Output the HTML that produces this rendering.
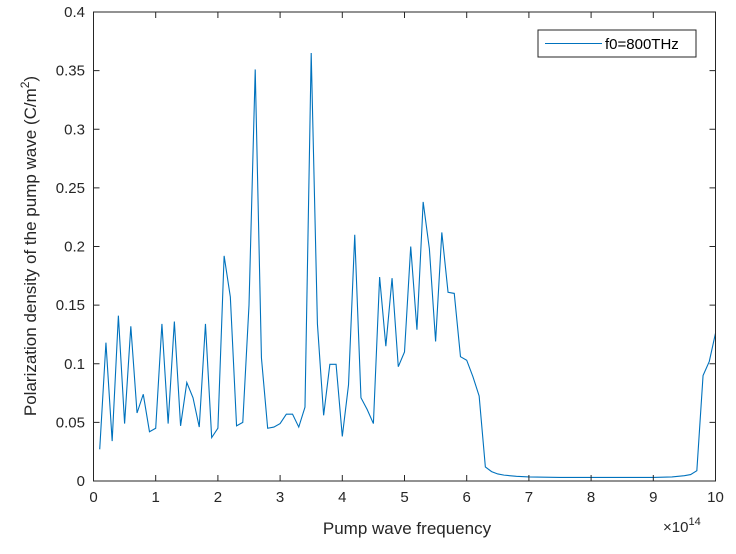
<!DOCTYPE html>
<html><head><meta charset="utf-8"><style>
html,body{margin:0;padding:0;background:#fff}
svg{display:block;font-family:"Liberation Sans",Arial,sans-serif}
</style></head><body>
<svg id="chart" width="736" height="554" viewBox="0 0 736 554">
<rect x="0" y="0" width="736" height="554" fill="#fff"/>
<g id="grid"></g>
<polyline id="series" fill="none" stroke="#0072BD" stroke-width="1.1"/>
<rect x="93.5" y="12" width="622" height="469" fill="none" stroke="#262626" stroke-width="1"/>
<g id="ticks"></g>
<text x="407" y="534" font-size="17" fill="#262626" text-anchor="middle">Pump wave frequency</text>
<text x="663" y="532" font-size="15" fill="#262626">×10<tspan dy="-7" font-size="11">14</tspan></text>
<text transform="translate(36,246) rotate(-90)" font-size="17" fill="#262626" text-anchor="middle">Polarization density of the pump wave (C/m<tspan dy="-7" font-size="12">2</tspan><tspan dy="7">)</tspan></text>
<g>
<rect x="538" y="30" width="158" height="27" fill="#fff" stroke="#262626" stroke-width="1"/>
<line x1="545" y1="43.5" x2="602" y2="43.5" stroke="#0072BD" stroke-width="1.1"/>
<text x="605" y="49" font-size="15" fill="#000">f0=800THz</text>
</g>
</svg>
<script>
const freqs = [0.1,0.2,0.3,0.4,0.5,0.6,0.7,0.8,0.9,1.0,1.1,1.2,1.3,1.4,1.5,1.6,1.7,1.8,1.9,2.0,2.1,2.2,2.3,2.4,2.5,2.6,2.7,2.8,2.9,3.0,3.1,3.2,3.3,3.4,3.5,3.6,3.7,3.8,3.9,4.0,4.1,4.2,4.3,4.4,4.5,4.6,4.7,4.8,4.9,5.0,5.1,5.2,5.3,5.4,5.5,5.6,5.7,5.8,5.9,6.0,6.1,6.2,6.3,6.4,6.5,6.6,6.8,7.0,7.5,8.0,8.5,9.0,9.3,9.5,9.6,9.7,9.8,9.9,10.0];
const values = [0.027,0.118,0.034,0.141,0.049,0.132,0.058,0.074,0.042,0.045,0.134,0.049,0.136,0.047,0.084,0.071,0.046,0.134,0.037,0.045,0.192,0.157,0.047,0.05,0.15,0.351,0.105,0.045,0.046,0.049,0.057,0.057,0.046,0.063,0.365,0.134,0.056,0.0995,0.0995,0.038,0.082,0.210,0.071,0.061,0.049,0.174,0.115,0.173,0.0975,0.110,0.200,0.129,0.238,0.198,0.119,0.212,0.161,0.160,0.106,0.103,0.089,0.0725,0.012,0.008,0.006,0.005,0.004,0.0035,0.003,0.003,0.003,0.003,0.0035,0.0045,0.0055,0.0088,0.090,0.102,0.126];
const xTicks = [0,1,2,3,4,5,6,7,8,9,10];
const yTicks = [0,0.05,0.1,0.15,0.2,0.25,0.3,0.35,0.4];
const yTickLabels = ["0","0.05","0.1","0.15","0.2","0.25","0.3","0.35","0.4"];

const X0=93.5, X1=715.5, Y0=481, Y1=12;
function xs(v){return X0+(v-0)/(10-0)*(X1-X0);}
function ys(v){return Y0-(v-0)/(0.4-0)*(Y0-Y1);}
const NS="http://www.w3.org/2000/svg";
const line=document.getElementById('series');
line.setAttribute('points', freqs.map((f,i)=>xs(f).toFixed(2)+','+ys(values[i]).toFixed(2)).join(' '));
const tg=document.getElementById('ticks');
xTicks.forEach(t=>{
  const x=xs(t);
  [[Y0,Y0-6],[Y1,Y1+6]].forEach(p=>{
    const l=document.createElementNS(NS,'line');
    l.setAttribute('x1',x);l.setAttribute('x2',x);l.setAttribute('y1',p[0]);l.setAttribute('y2',p[1]);
    l.setAttribute('stroke','#262626');
    
    
    tg.appendChild(l);
  });
  const tx=document.createElementNS(NS,'text');
  tx.setAttribute('x',x);tx.setAttribute('y',502);tx.setAttribute('text-anchor','middle');
  tx.setAttribute('font-size','15');tx.setAttribute('fill','#262626');
  tx.textContent=String(t);
  
  
  tg.appendChild(tx);
});
yTicks.forEach((t,i)=>{
  const y=ys(t);
  [[X0,X0+6],[X1,X1-6]].forEach(p=>{
    const l=document.createElementNS(NS,'line');
    l.setAttribute('y1',y);l.setAttribute('y2',y);l.setAttribute('x1',p[0]);l.setAttribute('x2',p[1]);
    l.setAttribute('stroke','#262626');
    
    
    tg.appendChild(l);
  });
  const tx=document.createElementNS(NS,'text');
  tx.setAttribute('x',85);tx.setAttribute('y',y+5);tx.setAttribute('text-anchor','end');
  tx.setAttribute('font-size','15');tx.setAttribute('fill','#262626');
  tx.textContent=yTickLabels[i];
  
  
  tg.appendChild(tx);
});
</script>
</body></html>
